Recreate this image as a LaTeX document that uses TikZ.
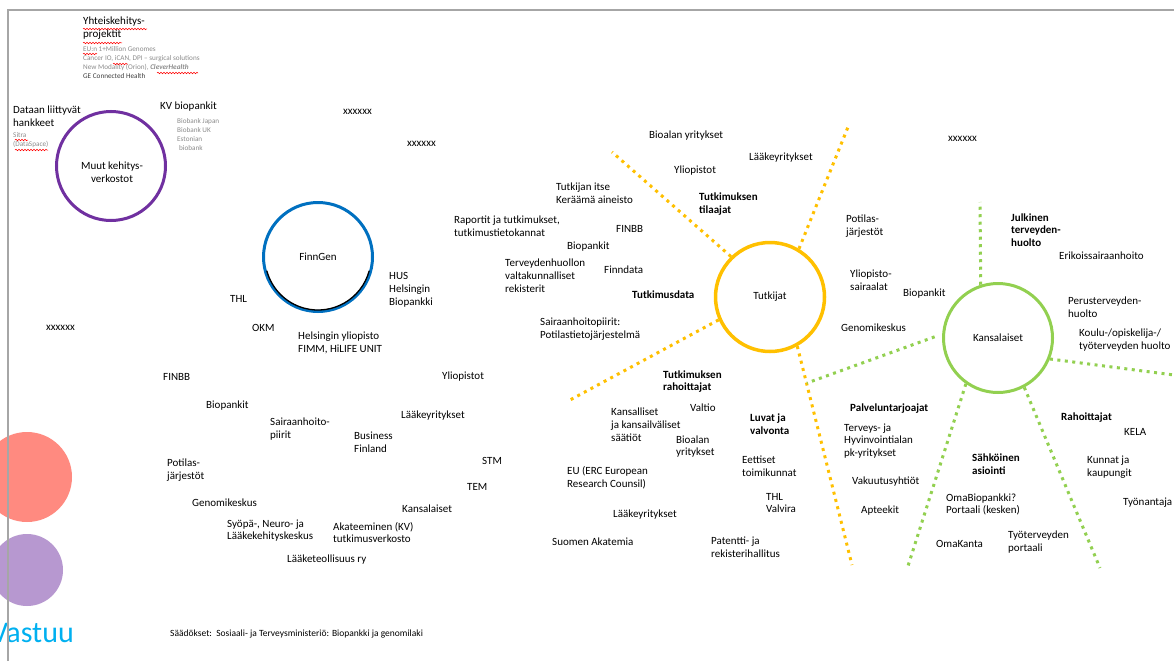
\documentclass[tikz,border=0pt]{standalone}
\usepackage{fontspec}
\setmainfont{Carlito}
\usetikzlibrary{decorations.pathmorphing}
\definecolor{ringyellow}{HTML}{FFC000}
\definecolor{ringgreen}{HTML}{92D050}
\definecolor{ringpurple}{HTML}{7030A0}
\definecolor{ringblue}{HTML}{0070C0}
\definecolor{dotred}{HTML}{FF8A80}
\definecolor{dotpurple}{HTML}{B798D0}
\definecolor{vastuublue}{HTML}{00B0F0}
\definecolor{notegray}{HTML}{8C8C8C}
\definecolor{framegray}{HTML}{A6A6A6}
\tikzset{
	orgtext/.style={anchor=west,inner sep=0pt,align=left,font=\fontsize{11}{12.8}\selectfont},%
	heading/.style={orgtext,font=\fontsize{11}{12.8}\selectfont\bfseries},%
	smalltext/.style={orgtext,text=notegray,font=\fontsize{7.2}{8.8}\selectfont},%
	hubring/.style={circle,draw,line width=3pt,minimum size=109pt,inner sep=0pt,align=center,font=\fontsize{11}{12.8}\selectfont},%
	yellowray/.style={draw=ringyellow,line width=3pt,dash pattern=on 3pt off 4.5pt},%
	greenray/.style={draw=ringgreen,line width=3pt,dash pattern=on 3pt off 4.5pt},%
	spellmark/.style={red,line width=0.5pt,decorate,decoration={snake,amplitude=0.8pt,segment length=3pt}},%
	slideframe/.style={draw=framegray,line width=1.2pt},%
}
\begin{document}
\begin{tikzpicture}[x=1pt,y=-1pt]
		\clip (0,0) rectangle (1174,661);
		\fill[white] (0,0) rectangle (1174,661);
		% Side dots {{{
		\fill[dotred] (27,477) circle (45);
		\fill[dotpurple] (27,570) circle (36);
		\node[anchor=east,inner sep=0pt,text=vastuublue,font=\fontsize{30}{32}\selectfont] (vastuu) at (74,633) {Vastuu};
		\draw[slideframe] (8,661) -- (8,10) -- (1174,10);
		% }}}
		% Muut kehitysverkostot {{{
		\node[orgtext] (yhteis) at (83,28) {Yhteiskehitys-\\projektit};
		\node[smalltext] (yhteislist) at (83,62.5) {EU:n 1+Million Genomes\\Cancer IO, iCAN, DPI -- surgical solutions\\New Modality (Orion), \textbf{\textit{CleverHealth}}\\{\color{darkgray}GE Connected Health}};
		\node[orgtext] (dataan) at (13,116) {Dataan liittyvät\\hankkeet};
		\node[smalltext] (sitra) at (13,140) {Sitra\\(DataSpace)};
		\node[orgtext] (kvbio) at (160,107) {KV biopankit};
		\node[smalltext] (kvlist) at (177,134.5) {Biobank Japan\\Biobank UK\\Estonian\\\hspace{2pt}biobank};
		\node[hubring,draw=ringpurple] (muutring) at (111,166) {};
		\node[orgtext,anchor=center,align=center] (muut) at (112,172) {Muut kehitys-\\verkostot};
		\draw[spellmark] (83,29) -- (147,29);
		\draw[spellmark] (83,43) -- (122,43);
		\draw[spellmark] (83,54) -- (97,54);
		\draw[spellmark] (113,64) -- (128,64);
		\draw[spellmark] (157,73) -- (198,73);
		\draw[spellmark] (15,140) -- (28,140);
		\draw[spellmark] (15,150) -- (48,150);
		% }}}
		% Placeholders {{{
		\node[orgtext] (xa) at (343,112) {xxxxxx};
		\node[orgtext] (xb) at (407,144) {xxxxxx};
		\node[orgtext] (xc) at (46,328) {xxxxxx};
		\node[orgtext] (xd) at (948,139) {xxxxxx};
		% }}}
		% FinnGen {{{
		\node[hubring,draw=ringblue] (finngen) at (318,257) {FinnGen};
		\draw[black,line width=1.3pt] (finngen.center) ++(15:53) arc (15:165:53);
		\node[orgtext] (hus) at (389,290) {HUS\\Helsingin\\Biopankki};
		\node[orgtext] (thl) at (230,299) {THL};
		\node[orgtext] (okm) at (252,328) {OKM};
		\node[orgtext] (hy) at (298,343) {Helsingin yliopisto\\FIMM, HiLIFE UNIT};
		\node[orgtext] (finbbleft) at (163,377) {FINBB};
		\node[orgtext] (biopankitleft) at (206,406) {Biopankit};
		\node[orgtext] (shpleft) at (270,429) {Sairaanhoito-\\piirit};
		\node[orgtext] (potilasleft) at (167,470.5) {Potilas-\\järjestöt};
		\node[orgtext] (genomileft) at (192,503) {Genomikeskus};
		\node[orgtext] (syopa) at (227,530.5) {Syöpä-, Neuro- ja\\Lääkekehityskeskus};
		\node[orgtext] (laaketeoll) at (287,560) {Lääketeollisuus ry};
		\node[orgtext] (yliopistotleft) at (442,377) {Yliopistot};
		\node[orgtext] (laakeyrleft) at (401,416) {Lääkeyritykset};
		\node[orgtext] (business) at (354,442.5) {Business\\Finland};
		\node[orgtext] (stm) at (482,461) {STM};
		\node[orgtext] (tem) at (467,487) {TEM};
		\node[orgtext] (kansalaisetleft) at (402,509) {Kansalaiset};
		\node[orgtext] (akateeminen) at (333,532.5) {Akateeminen (KV)\\tutkimusverkosto};
		% }}}
		% Tutkijat {{{
		\node[hubring,draw=ringyellow,line width=3.5pt] (tutkijat) at (770,297) {Tutkijat};
		\coordinate (tutkijatnw) at (612,152);
		\coordinate (tutkijatne) at (848,127);
		\coordinate (tutkijatsw) at (570,400);
		\coordinate (tutkijatse) at (852,565);
		\draw[yellowray] (tutkijat.134) -- (tutkijatnw);
		\draw[yellowray] (tutkijat.59) -- (tutkijatne);
		\draw[yellowray] (tutkijat.204) -- (tutkijatsw);
		\draw[yellowray] (tutkijat.-61) -- (tutkijatse);
		\node[orgtext] (tutkijanitse) at (556,193) {Tutkijan itse\\Keräämä aineisto};
		\node[orgtext] (raportit) at (454,226.5) {Raportit ja tutkimukset,\\tutkimustietokannat};
		\node[orgtext] (finbbtop) at (616,229) {FINBB};
		\node[orgtext] (biopankittop) at (567,247) {Biopankit};
		\node[orgtext] (rekisterit) at (505,276) {Terveydenhuollon\\valtakunnalliset\\rekisterit};
		\node[orgtext] (finndata) at (604,270) {Finndata};
		\node[heading] (tutkimusdata) at (632,295) {Tutkimusdata};
		\node[orgtext] (shptop) at (540,329.5) {Sairaanhoitopiirit:\\Potilastietojärjestelmä};
		\node[orgtext] (bioalantop) at (649,136) {Bioalan yritykset};
		\node[orgtext] (yliopistottop) at (674,171) {Yliopistot};
		\node[orgtext] (laakeyrtop) at (749,158) {Lääkeyritykset};
		\node[heading] (tilaajat) at (699,204) {Tutkimuksen\\tilaajat};
		\node[orgtext] (potilastop) at (846,226.5) {Potilas-\\järjestöt};
		\node[orgtext] (ylsairaalat) at (850,280.5) {Yliopisto-\\sairaalat};
		\node[orgtext] (biopankitright) at (903,294) {Biopankit};
		\node[orgtext] (genomiright) at (841,328) {Genomikeskus};
		\node[heading] (rahoittajat) at (663,381.5) {Tutkimuksen\\rahoittajat};
		\node[orgtext] (valtio) at (690,408) {Valtio};
		\node[orgtext] (saatiot) at (611,425) {Kansalliset\\ja kansailväliset\\säätiöt};
		\node[orgtext] (bioalanlow) at (676,446.5) {Bioalan\\yritykset};
		\node[heading] (luvat) at (750,424.5) {Luvat ja\\valvonta};
		\node[orgtext] (eettiset) at (742,466) {Eettiset\\toimikunnat};
		\node[orgtext] (thlvalvira) at (766,503) {THL\\Valvira};
		\node[orgtext] (eu) at (567,477.5) {EU (ERC European\\Research Counsil)};
		\node[orgtext] (laakeyrlow) at (613,515) {Lääkeyritykset};
		\node[orgtext] (akatemia) at (552,542) {Suomen Akatemia};
		\node[orgtext] (patentti) at (711,547) {Patentti- ja\\rekisterihallitus};
		% }}}
		% Kansalaiset {{{
		\node[hubring,draw=ringgreen] (kansalaiset) at (998,338) {Kansalaiset};
		\coordinate (kansalaisetn) at (980,202);
		\coordinate (kansalaisetw) at (807,383);
		\coordinate (kansalaisete) at (1174,375);
		\coordinate (kansalaisetsw) at (908,566);
		\coordinate (kansalaisetse) at (1100,568);
		\draw[greenray] (kansalaiset.108) -- (kansalaisetn);
		\draw[greenray,shorten <=8pt] (kansalaiset.176) -- (kansalaisetw);
		\draw[greenray] (kansalaiset.-22) -- (kansalaisete);
		\draw[greenray] (kansalaiset.-125) -- (kansalaisetsw);
		\draw[greenray] (kansalaiset.-62) -- (kansalaisetse);
		\node[heading] (julkinen) at (1011,230) {Julkinen\\terveyden-\\huolto};
		\node[orgtext] (erikois) at (1059,256) {Erikoissairaanhoito};
		\node[orgtext] (perus) at (1068,307) {Perusterveyden-\\huolto};
		\node[orgtext] (koulu) at (1079,340) {Koulu-/opiskelija-/\\työterveyden huolto};
		\node[heading] (palvelu) at (850,409) {Palveluntarjoajat};
		\node[orgtext] (terveys) at (844,441) {Terveys- ja\\Hyvinvointialan\\pk-yritykset};
		\node[orgtext] (vakuutus) at (852,482) {Vakuutusyhtiöt};
		\node[orgtext] (apteekit) at (861,511) {Apteekit};
		\node[heading] (sahkoinen) at (972,464) {Sähköinen\\asiointi};
		\node[orgtext] (omabio) at (946,504.5) {OmaBiopankki?\\Portaali (kesken)};
		\node[orgtext] (omakanta) at (936,544) {OmaKanta};
		\node[orgtext] (tyoterv) at (1008,542) {Työterveyden\\portaali};
		\node[heading] (rahoitus) at (1061,418) {Rahoittajat};
		\node[orgtext] (kela) at (1124,432) {KELA};
		\node[orgtext] (kunnat) at (1087,467.5) {Kunnat ja\\kaupungit};
		\node[orgtext] (tyonantaja) at (1123,503) {Työnantaja};
		% }}}
		\node[orgtext,font=\fontsize{9.5}{11}\selectfont] (saadokset) at (170,634) {Säädökset:\ \ Sosiaali- ja Terveysministeriö: Biopankki ja genomilaki};
	\end{tikzpicture}
\end{document}
